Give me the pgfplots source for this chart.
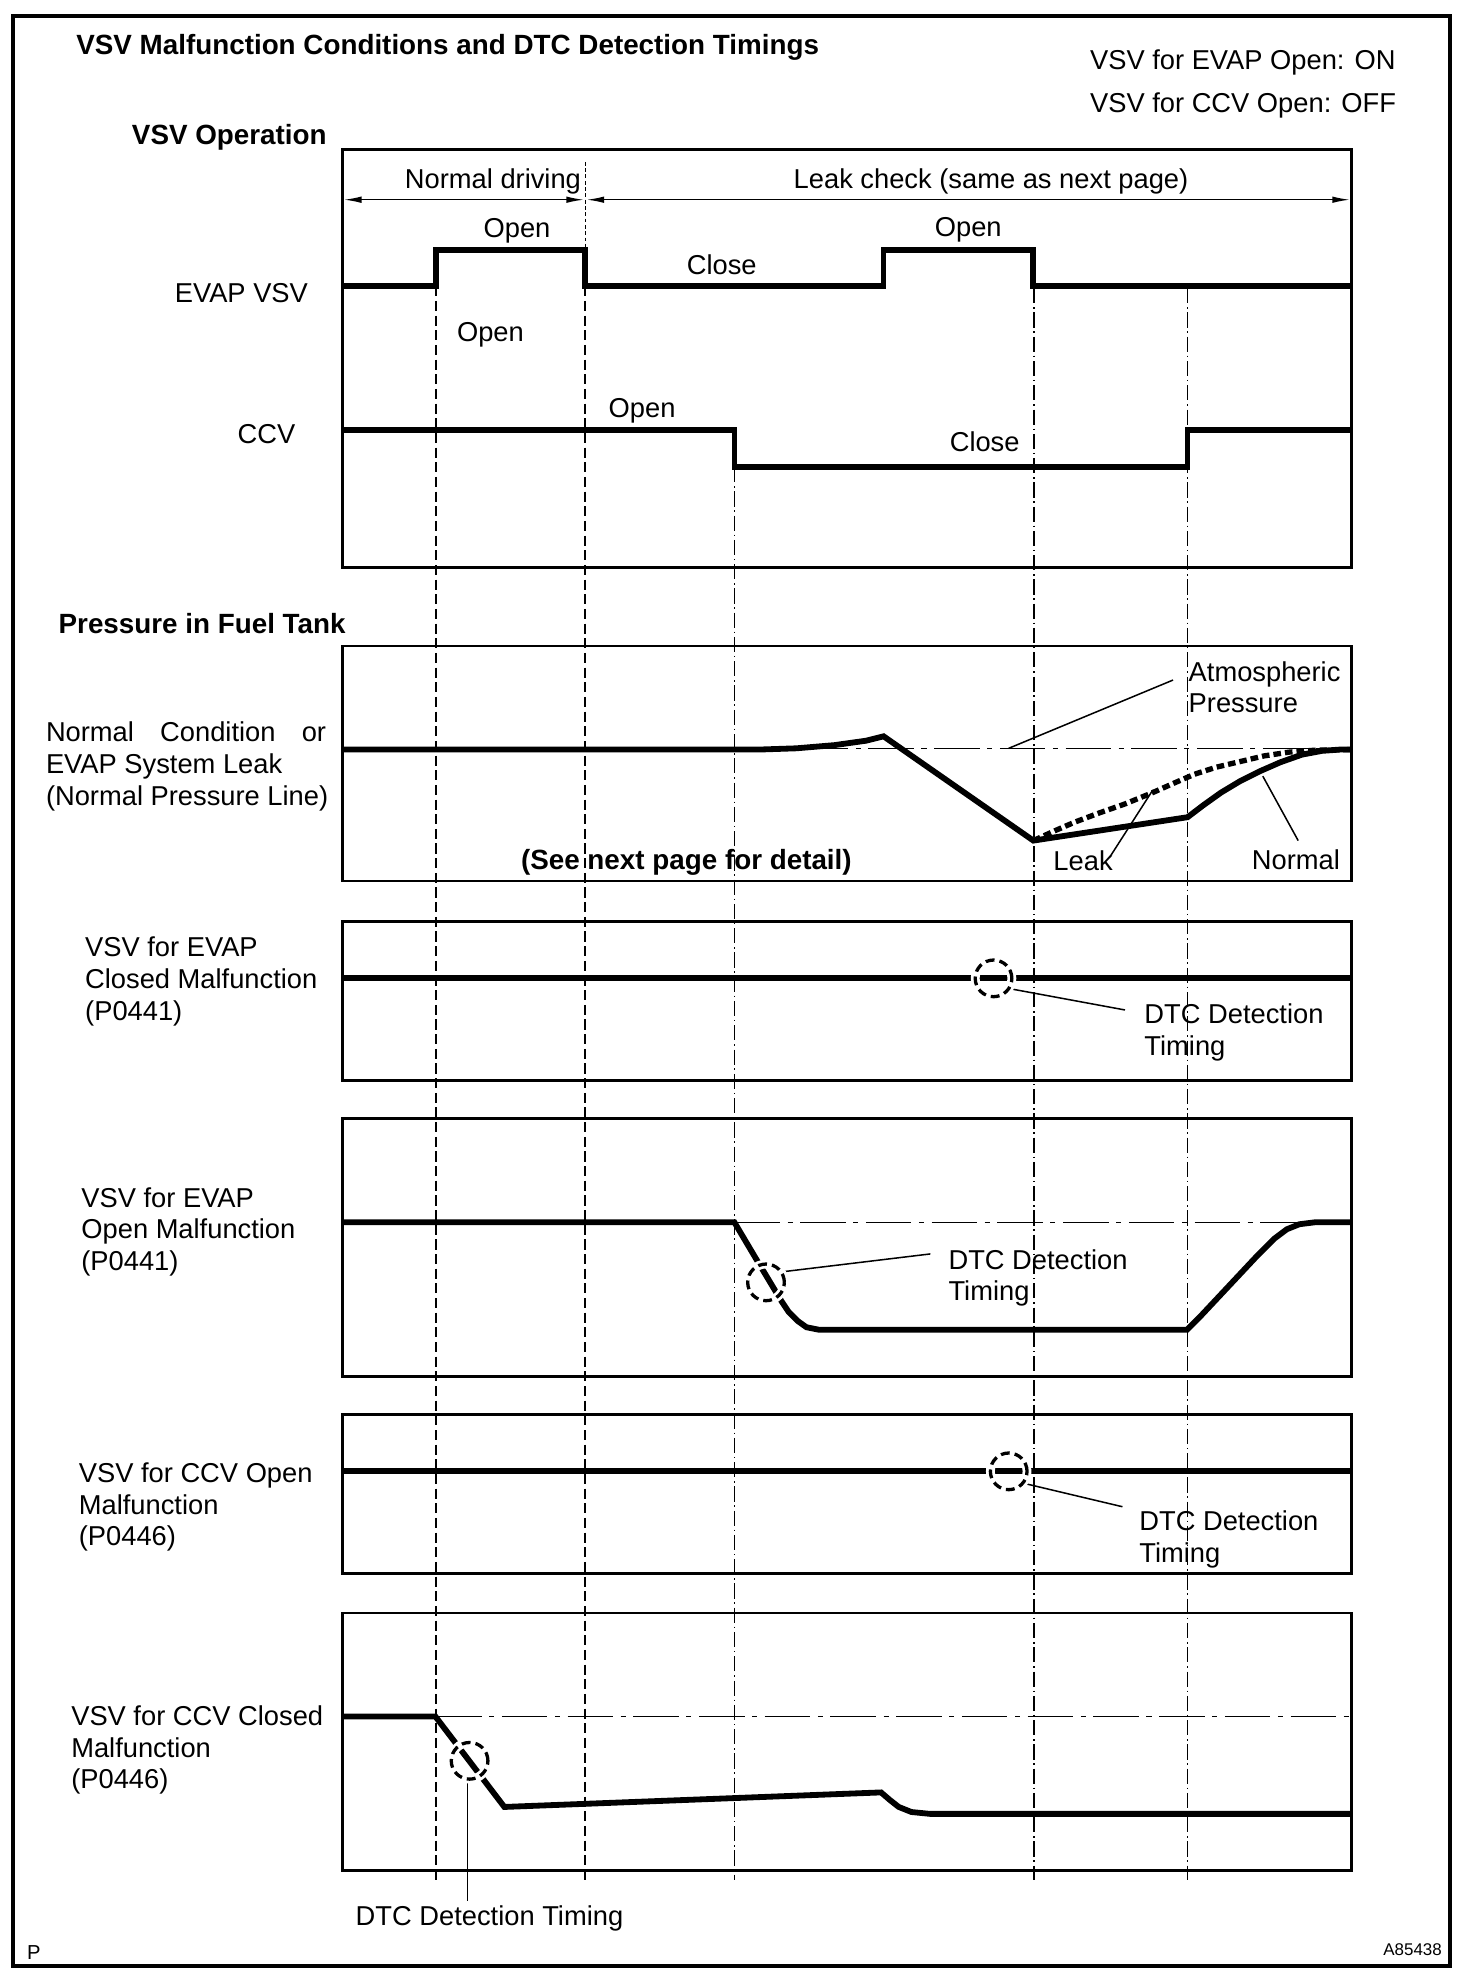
\documentclass[border=0pt]{standalone}
\usepackage{pgfplots}
\pgfplotsset{compat=1.18}
\usetikzlibrary{arrows.meta}
\usepackage{fontspec}
\setmainfont{Liberation Sans}
\newcommand{\rf}{\fontsize{10.8}{13}\selectfont}
\newcommand{\bff}{\bfseries\fontsize{11}{13}\selectfont}
\begin{document}
\begin{tikzpicture}[
  lbl/.style={inner sep=0pt, anchor=base west, font=\rf},
  blbl/.style={inner sep=0pt, anchor=base west, font=\bff},
  sig/.style={line width=2.3pt, line join=miter},
  frm/.style={line width=1.1pt, line join=miter},
  major/.style={line width=0.85pt, dash pattern=on 4pt off 1.8pt},
  minor/.style={line width=0.45pt, dash pattern=on 6pt off 1.5pt on 0.6pt off 1.5pt},
  atm/.style={line width=0.5pt, dash pattern=on 18pt off 3pt on 2pt off 3pt},
  ldr/.style={line width=0.6pt},
]
\begin{axis}[
  scale only axis, width=582.5pt, height=784pt,
  xmin=0, xmax=1165, ymin=0, ymax=1568, y dir=reverse,
  axis lines=none, ticks=none, clip=false,
]
\path (axis cs:0,0) rectangle (axis cs:1165,1568);
% outer border
\addplot[line width=1.6pt, line join=miter] coordinates {(10,13) (1147,13) (1147,1555) (10,1555)} -- cycle;
% panels
\addplot[frm] coordinates {(271,118) (1069,118) (1069,449) (271,449)} -- cycle;
\addplot[frm] coordinates {(271,511) (1069,511) (1069,697) (271,697)} -- cycle;
\addplot[frm] coordinates {(271,729) (1069,729) (1069,855) (271,855)} -- cycle;
\addplot[frm] coordinates {(271,885) (1069,885) (1069,1089) (271,1089)} -- cycle;
\addplot[frm] coordinates {(271,1119) (1069,1119) (1069,1245) (271,1245)} -- cycle;
\addplot[frm] coordinates {(271,1276) (1069,1276) (1069,1480) (271,1480)} -- cycle;
% vertical timing lines
\addplot[major] coordinates {(345,226.5) (345,1487)};
\addplot[major] coordinates {(463,226.5) (463,1487)};
\addplot[line width=0.4pt, dash pattern=on 1.5pt off 1pt] coordinates {(463,128) (463,198)};
\addplot[minor] coordinates {(581,369.5) (581,1487)};
\addplot[minor] coordinates {(818,228) (818,1487)};
\addplot[minor] coordinates {(939.5,228) (939.5,1487)};
% atmospheric lines
\addplot[atm] coordinates {(271,592) (1069,592)};
\addplot[atm] coordinates {(581,967) (1069,967)};
\addplot[atm] coordinates {(345,1358) (1069,1358)};
% phase arrows
\addplot[line width=0.6pt, {Latex[length=7pt,width=2.6pt]}-{Latex[length=7pt,width=2.6pt]}] coordinates {(272,158) (462,158)};
\addplot[line width=0.6pt, {Latex[length=7pt,width=2.6pt]}-{Latex[length=7pt,width=2.6pt]}] coordinates {(464,158) (1068,158)};
% EVAP VSV
\addplot[sig] coordinates {(271,226.5) (345,226.5) (345,198) (463,198) (463,226.5) (699,226.5) (699,198) (817.5,198) (817.5,226.5) (1069,226.5)};
% CCV
\addplot[sig] coordinates {(271,340.5) (581,340.5) (581,369.5) (939.5,369.5) (939.5,340.5) (1069,340.5)};
% pressure: normal
\addplot[sig] coordinates {(271,593) (600,593) (630,592) (660,589.5) (685,586) (699,582.5) (817.5,665) (939.5,646.5) (952,637) (966,627) (981,618) (997,610) (1013,603) (1030,597) (1046,594) (1060,593) (1069,593)};
% pressure: leak
\addplot[line width=2.1pt, dash pattern=on 3pt off 1.6pt] coordinates {(817.5,665) (835,657) (850,650.5) (870,643) (890,636) (912,627) (930,619) (945,612.5) (962,607) (981,602.5) (1000,598) (1020,595) (1040,593.5) (1069,593)};
% leaders panel 2
\addplot[ldr] coordinates {(928,538) (798,592)};
\addplot[ldr] coordinates {(878,678) (912,625)};
\addplot[ldr] coordinates {(1027,665) (999,614)};
% panel 3
\addplot[sig] coordinates {(271,774) (1069,774)};
\addplot[ldr] coordinates {(798,782) (890,799)};
% panel 4
\addplot[sig] coordinates {(271,967) (581,967) (600,999) (618,1029) (624,1038) (631,1045) (638,1050) (648,1052) (939,1052) (950,1041) (965,1025) (980,1009) (995,993) (1008,980) (1018,972.5) (1028,968.5) (1040,967) (1069,967)};
\addplot[ldr] coordinates {(620,1006) (736,992)};
% panel 5
\addplot[sig] coordinates {(271,1164) (1069,1164)};
\addplot[ldr] coordinates {(808,1173) (888,1192)};
% panel 6
\addplot[sig] coordinates {(271,1358) (344.5,1358) (399,1429.5) (697,1418) (704,1424) (711,1429.5) (721,1433.5) (736,1435) (1069,1435)};
\addplot[ldr] coordinates {(370,1407) (370,1504)};
% detection circles
\addplot[only marks, mark=o, mark size=7.25pt, mark options={draw=white, line width=3.5pt}] coordinates {(786,774) (606,1014.5) (798,1164) (371.5,1393)};
\addplot[only marks, mark=o, mark size=7.25pt, mark options={draw=black, line width=1.3pt, dash pattern=on 3.5pt off 2pt}] coordinates {(786,774) (606,1014.5) (798,1164) (371.5,1393)};
% texts
\node[blbl] at (axis cs:60,43) {VSV Malfunction Conditions and DTC Detection Timings};
\node[lbl] at (axis cs:862,55) {VSV for EVAP Open: ON};
\node[lbl] at (axis cs:862,89) {VSV for CCV Open: OFF};
\node[blbl] at (axis cs:104,114) {VSV Operation};
\node[lbl, anchor=base] at (axis cs:390,149) {Normal driving};
\node[lbl, anchor=base] at (axis cs:784,149) {Leak check (same as next page)};
\node[lbl, anchor=base] at (axis cs:409,188) {Open};
\node[lbl, anchor=base] at (axis cs:571,217) {Close};
\node[lbl, anchor=base] at (axis cs:766,187) {Open};
\node[lbl, anchor=base east] at (axis cs:244,239) {EVAP VSV};
\node[lbl, anchor=base] at (axis cs:388,270) {Open};
\node[lbl, anchor=base] at (axis cs:508,330) {Open};
\node[lbl, anchor=base] at (axis cs:779,357) {Close};
\node[lbl, anchor=base east] at (axis cs:234,351) {CCV};
\node[blbl] at (axis cs:46,501) {Pressure in Fuel Tank};
\node[lbl] at (axis cs:36,587) {\makebox[110.8pt][s]{Normal Condition or}};
\node[lbl] at (axis cs:36,612) {EVAP System Leak};
\node[lbl] at (axis cs:36,637) {(Normal Pressure Line)};
\node[blbl, anchor=base] at (axis cs:543,688) {(See next page for detail)};
\node[lbl] at (axis cs:940,539) {Atmospheric};
\node[lbl] at (axis cs:940,564) {Pressure};
\node[lbl] at (axis cs:833,689) {Leak};
\node[lbl] at (axis cs:990,688) {Normal};
\node[lbl] at (axis cs:67,757) {VSV for EVAP};
\node[lbl] at (axis cs:67,782) {Closed Malfunction};
\node[lbl] at (axis cs:67,807) {(P0441)};
\node[lbl] at (axis cs:905,810) {DTC Detection};
\node[lbl] at (axis cs:905,835) {Timing};
\node[lbl] at (axis cs:64,955) {VSV for EVAP};
\node[lbl] at (axis cs:64,980) {Open Malfunction};
\node[lbl] at (axis cs:64,1005) {(P0441)};
\node[lbl] at (axis cs:750,1004) {DTC Detection};
\node[lbl] at (axis cs:750,1029) {Timing};
\node[lbl] at (axis cs:62,1173) {VSV for CCV Open};
\node[lbl] at (axis cs:62,1198) {Malfunction};
\node[lbl] at (axis cs:62,1223) {(P0446)};
\node[lbl] at (axis cs:901,1211) {DTC Detection};
\node[lbl] at (axis cs:901,1236) {Timing};
\node[lbl] at (axis cs:56,1365) {VSV for CCV Closed};
\node[lbl] at (axis cs:56,1390) {Malfunction};
\node[lbl] at (axis cs:56,1415) {(P0446)};
\node[lbl] at (axis cs:281,1523) {DTC Detection Timing};
\node[inner sep=0pt, anchor=base west, font=\fontsize{8}{9}\selectfont] at (axis cs:21,1550) {P};
\node[inner sep=0pt, anchor=base east, font=\fontsize{6.7}{7}\selectfont] at (axis cs:1141,1547) {A85438};
\end{axis}
\end{tikzpicture}
\end{document}
